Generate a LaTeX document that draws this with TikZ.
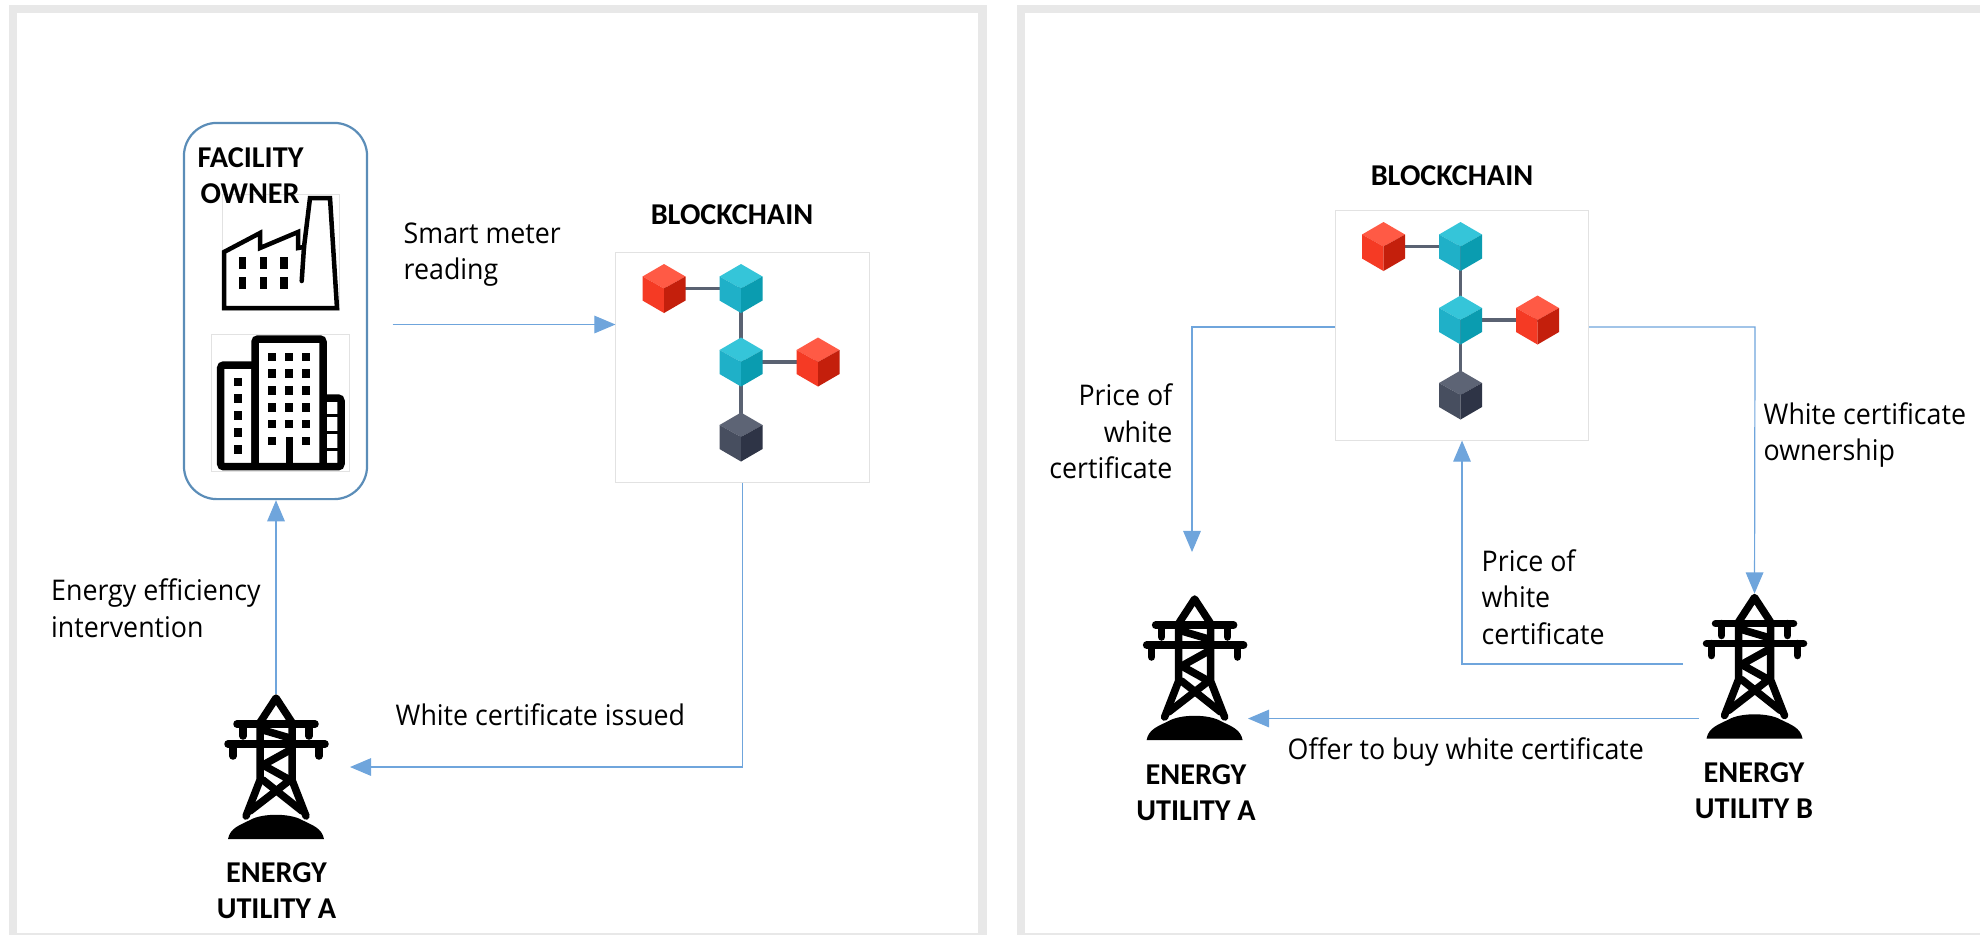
\documentclass[tikz,border=0pt]{standalone}
\usepackage{fontspec}
\setmainfont{Open Sans}[FakeStretch=0.94]
\newfontfamily\titlefont{Carlito}
\usetikzlibrary{arrows,calc}
\definecolor{barGray}{HTML}{E8E8E8}
\definecolor{edgeGray}{HTML}{E2E2E2}
\definecolor{boxBlue}{HTML}{5B8DB8}
\definecolor{flowBlue}{HTML}{6FA5DC}
\definecolor{linkGray}{HTML}{5A6272}
\definecolor{redTop}{HTML}{FF5A45}
\definecolor{redLeft}{HTML}{F53A24}
\definecolor{redRight}{HTML}{C41F0C}
\definecolor{cyanTop}{HTML}{35C5D9}
\definecolor{cyanLeft}{HTML}{1FB0C8}
\definecolor{cyanRight}{HTML}{0A9CB0}
\definecolor{darkTop}{HTML}{5D6475}
\definecolor{darkLeft}{HTML}{474E5F}
\definecolor{darkRight}{HTML}{2E3446}
\tikzset{bar/.style={fill=barGray,draw=none}}
\tikzset{flow/.style={-triangle 45, flowBlue, line width=0.012cm}}
\tikzset{caption/.style={inner sep=0pt,font=\fontsize{8.1}{10.4}\selectfont}}
\tikzset{heading/.style={inner sep=0pt,align=center,font=\titlefont\bfseries\fontsize{8.6}{10.3}\selectfont}}
\tikzset{imgbox/.style={draw=edgeGray,line width=0.01cm,inner sep=0pt}}
\tikzset{pylonline/.style={line width=0.075cm,line cap=round,line join=round}}
\newcommand{\cube}[3]{%
    \fill [#3Top] (#1,#2-24.5) -- (#1+21.5,#2-12) -- (#1,#2) -- (#1-21.5,#2-12) -- cycle;
    \fill [#3Left] (#1-21.5,#2-12) -- (#1,#2) -- (#1,#2+24.5) -- (#1-21.5,#2+12) -- cycle;
    \fill [#3Right] (#1,#2) -- (#1+21.5,#2-12) -- (#1+21.5,#2+12) -- (#1,#2+24.5) -- cycle;
}
\tikzset{blockchain/.pic={
    \node [imgbox,fill=white,minimum width=2.53cm,minimum height=2.29cm] (-box) at (126.5,114.5) {};
    \draw [linkGray,line width=0.035cm] (48,35.5) -- (125,35.5) -- (125,184);
    \draw [linkGray,line width=0.035cm] (125,109) -- (202,109);
    \cube{48}{35.5}{red}
    \cube{125}{35.5}{cyan}
    \cube{125}{109}{cyan}
    \cube{202}{109}{red}
    \cube{125}{184}{dark}
}}
\tikzset{pylon/.pic={
    \coordinate (-top) at (0,0);
    \draw [pylonline] (-17,30) -- (0,4) -- (17,30);
    \draw [pylonline] (-39,30) -- (39,30);
    \draw [pylonline] (-48,50) -- (49,50);
    \draw [pylonline] (-33,30) -- (-33,42);
    \draw [pylonline] (33,30) -- (33,42);
    \draw [pylonline] (-43,50) -- (-43,62);
    \draw [pylonline] (43,50) -- (43,62);
    \draw [pylonline] (-16,30) -- (-16,86) -- (-30,122);
    \draw [pylonline] (16,30) -- (16,86) -- (30,122);
    \draw [pylonline] (-13,36) -- (14,44) (14,56) -- (-13,71) -- (14,86) -- (-26,117);
    \draw [pylonline] (-13,86) -- (26,117);
    \fill (-48,145) .. controls (-46,134) and (-36,131) .. (-26,126) .. controls (-14,119) and (14,119) .. (26,126) .. controls (36,131) and (46,134) .. (48,145) -- cycle;
}}
\begin{document}
\begin{tikzpicture}[x=0.01cm,y=-0.01cm]
    \useasboundingbox (0,0) rectangle (1980,935);
    % left panel frame
    \fill [bar] (9,5) rectangle (987,13);
    \fill [bar] (9,5) rectangle (17,935);
    \fill [bar] (978,5) rectangle (987,935);
    \fill [bar] (17,933) rectangle (978,935);
    % right panel frame
    \fill [bar] (1017,5) rectangle (1980,13);
    \fill [bar] (1017,5) rectangle (1025,935);
    \fill [bar] (1025,933) rectangle (1980,935);

    % facility owner
    \node [draw=boxBlue,line width=0.022cm,rounded corners=0.33cm,minimum width=1.83cm,minimum height=3.76cm] (facility) at (275.5,311) {};
    \node [imgbox,minimum width=1.16cm,minimum height=1.15cm] (factory) at (281,252.5) {};
    \node [imgbox,minimum width=1.37cm,minimum height=1.36cm] (building) at (280.5,403) {};
    \node [heading,anchor=west,align=left] (owner) at (197,176) {FACILITY\\\hspace{0.8pt}OWNER};
    \draw [line width=0.045cm,line join=miter] (224,308) -- (224,252) -- (260,233) -- (260,248) -- (298,232) -- (298,248) -- (304,247) -- (310,198) -- (330,198) -- (337,308) -- cycle;
    \draw [line width=0.045cm,line cap=round] (304,247) -- (301.7,281);
    \foreach \x in {242.7,263.3,284} \foreach \y in {263,283}
        \fill (\x-3.7,\y-5.7) rectangle (\x+3.7,\y+5.7);
    \draw [line width=0.075cm,rounded corners=0.03cm] (255,466.7) -- (255,365) -- (220.7,365) -- (220.7,466.7) -- (341,466.7) -- (341,398) -- (323,398);
    \draw [line width=0.075cm,rounded corners=0.03cm] (255,466.7) -- (255,339) -- (323,339) -- (323,466.7);
    \draw [line width=0.07cm] (289,437) -- (289,466.7);
    \foreach \x in {272,289,306} \foreach \y in {356.7,373.3,390.3,407.3,424}
        \fill (\x-4.2,\y-4.2) rectangle (\x+4.2,\y+4.2);
    \foreach \x in {272,306}
        \fill (\x-4.2,436.8) rectangle (\x+4.2,445.2);
    \foreach \y in {381.7,398.3,415.3,432.3,449.3}
        \fill (233.5,\y-4.2) rectangle (241.9,\y+4.2);
    \foreach \y in {415.3,432.3,449.3}
        \draw [line width=0.035cm] (323,\y) -- (341,\y);

    % left panel blockchain and utility
    \node [heading] (chainA) at (732,215) {BLOCKCHAIN};
    \pic (bcA) at (616,253) {blockchain};
    \pic (pylonA) at (276,694) {pylon};
    \node [heading] (utilA) at (276.5,891) {ENERGY\\UTILITY A};
    \node [caption,anchor=west,align=left] (smart) at (403,254.5) {Smart meter\\reading};
    \node [caption,anchor=west,align=left] (efficiency) at (50.5,608) {Energy efficiency\\intervention};
    \node [caption,anchor=west] (issued) at (395,715) {White certificate issued};
    \coordinate (smartOut) at (392.7,324.5);
    \coordinate (issuedIn) at (350,767);
    \draw [flow] (smartOut) -- (smartOut -| bcA-box.west);
    \draw [flow] (bcA-box.south) |- (issuedIn);
    \draw [flow] (pylonA-top) -- (pylonA-top |- facility.south);

    % right panel
    \node [heading] (chainB) at (1452,175.5) {BLOCKCHAIN};
    \pic (bcB) at (1335.5,211) {blockchain};
    \pic (pylonC) at (1194.6,595) {pylon};
    \pic (pylonD) at (1754.5,593.5) {pylon};
    \node [heading] (utilC) at (1196,792.5) {ENERGY\\UTILITY A};
    \node [heading] (utilD) at (1754,791) {ENERGY\\UTILITY B};
    \node [caption,anchor=east,align=right] (priceC) at (1173,431.5) {Price of\\white\\certificate};
    \node [caption,anchor=west,align=left] (owned) at (1763,435) {White certificate\\ownership};
    \node [caption,anchor=west,align=left] (priceD) at (1481,597) {Price of\\white\\certificate};
    \node [caption,anchor=west] (offer) at (1287,751.5) {Offer to buy white certificate};
    \coordinate (splitL) at (1192,327);
    \coordinate (splitR) at (1755,327);
    \coordinate (priceIn) at (1192,552);
    \coordinate (priceOut) at (1683,664);
    \coordinate (offerOut) at (1699,718.5);
    \coordinate (offerIn) at (1248,718.5);
    \draw [flow] (splitL -| bcB-box.west) -- (splitL) -- (priceIn);
    \draw [flow] (splitR -| bcB-box.east) -- (splitR) -- (pylonD-top);
    \draw [flow] (priceOut) -| (bcB-box.south);
    \draw [flow] (offerOut) -- (offerIn);
\end{tikzpicture}
\end{document}
